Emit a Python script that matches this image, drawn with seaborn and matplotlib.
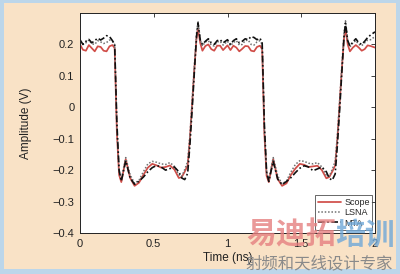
import numpy as np
import pandas as pd
import matplotlib
matplotlib.use("Agg")
import matplotlib.pyplot as plt
import seaborn as sns
from matplotlib.patches import Rectangle

# ---- data ----
time_ns = [0.00, 0.02, 0.04, 0.06, 0.08, 0.10, 0.12, 0.14, 0.16, 0.18, 0.20, 0.22,
           0.235, 0.25, 0.265, 0.28, 0.31, 0.34, 0.37, 0.40, 0.43, 0.46, 0.49, 0.52,
           0.55, 0.58, 0.61, 0.64, 0.67, 0.69, 0.71, 0.73, 0.745, 0.76, 0.775, 0.79,
           0.80, 0.815, 0.83, 0.85, 0.87, 0.89, 0.91, 0.93, 0.95, 0.97,
           1.00, 1.02, 1.04, 1.06, 1.08, 1.10, 1.12, 1.14, 1.16, 1.18, 1.20, 1.22,
           1.235, 1.25, 1.265, 1.28, 1.31, 1.34, 1.37, 1.40, 1.43, 1.46, 1.49, 1.52,
           1.55, 1.58, 1.61, 1.64, 1.67, 1.69, 1.71, 1.73, 1.745, 1.76, 1.775, 1.79,
           1.80, 1.815, 1.83, 1.85, 1.87, 1.89, 1.91, 1.93, 1.95, 1.97, 2.00]

scope = [0.200, 0.183, 0.180, 0.198, 0.188, 0.178, 0.194, 0.192, 0.180, 0.178, 0.194, 0.198,
         0.188, -0.080, -0.215, -0.238, -0.165, -0.225, -0.250, -0.240, -0.215, -0.192, -0.180, -0.185,
         -0.192, -0.190, -0.185, -0.198, -0.225, -0.222, -0.205, -0.185, -0.100, 0.010, 0.120, 0.220,
         0.250, 0.205, 0.180, 0.195, 0.200, 0.185, 0.180, 0.196, 0.196, 0.182,
         0.197, 0.182, 0.196, 0.190, 0.178, 0.186, 0.195, 0.194, 0.180, 0.178, 0.192, 0.196,
         0.185, -0.085, -0.218, -0.238, -0.165, -0.228, -0.250, -0.242, -0.215, -0.195, -0.180, -0.183,
         -0.190, -0.188, -0.186, -0.200, -0.226, -0.222, -0.205, -0.185, -0.100, 0.010, 0.120, 0.220,
         0.250, 0.200, 0.178, 0.190, 0.198, 0.190, 0.180, 0.185, 0.197, 0.195, 0.190]

lsna = [0.208, 0.200, 0.205, 0.214, 0.202, 0.200, 0.212, 0.208, 0.203, 0.206, 0.214, 0.210,
        0.200, -0.070, -0.205, -0.230, -0.160, -0.215, -0.242, -0.232, -0.205, -0.180, -0.172, -0.175,
        -0.180, -0.182, -0.176, -0.188, -0.215, -0.220, -0.198, -0.172, -0.090, 0.020, 0.130, 0.235,
        0.275, 0.215, 0.195, 0.208, 0.212, 0.198, 0.195, 0.208, 0.210, 0.198,
        0.210, 0.196, 0.206, 0.212, 0.198, 0.200, 0.212, 0.214, 0.200, 0.198, 0.208, 0.212,
        0.200, -0.075, -0.208, -0.232, -0.160, -0.218, -0.244, -0.234, -0.206, -0.182, -0.170, -0.172,
        -0.178, -0.180, -0.176, -0.190, -0.216, -0.220, -0.198, -0.172, -0.090, 0.020, 0.130, 0.235,
        0.275, 0.212, 0.192, 0.205, 0.212, 0.200, 0.196, 0.205, 0.214, 0.215, 0.225]

mta = [0.215, 0.200, 0.210, 0.216, 0.205, 0.212, 0.220, 0.214, 0.220, 0.228, 0.225, 0.212,
       0.200, -0.050, -0.200, -0.235, -0.170, -0.225, -0.245, -0.235, -0.222, -0.205, -0.192, -0.185,
       -0.190, -0.200, -0.195, -0.190, -0.205, -0.225, -0.230, -0.210, -0.120, -0.010, 0.110, 0.225,
       0.268, 0.215, 0.200, 0.210, 0.218, 0.205, 0.200, 0.212, 0.215, 0.205,
       0.215, 0.200, 0.212, 0.218, 0.205, 0.210, 0.218, 0.215, 0.225, 0.222, 0.215, 0.220,
       0.205, -0.055, -0.205, -0.236, -0.172, -0.228, -0.246, -0.236, -0.224, -0.208, -0.194, -0.186,
       -0.190, -0.202, -0.196, -0.190, -0.205, -0.226, -0.232, -0.212, -0.120, -0.010, 0.110, 0.225,
       0.268, 0.212, 0.195, 0.208, 0.218, 0.205, 0.200, 0.210, 0.222, 0.230, 0.240]

series_names = ["Scope", "LSNA", "MTA"]
x_ticks = [0, 0.5, 1, 1.5, 2]
x_tick_labels = ["0", "0.5", "1", "1.5", "2"]
y_ticks = [-0.4, -0.3, -0.2, -0.1, 0, 0.1, 0.2]
y_tick_labels = ["\u22120.4", "\u22120.3", "\u22120.2", "\u22120.1", "0", "0.1", "0.2"]

df = pd.DataFrame({"t": time_ns * 3,
                   "v": scope + lsna + mta,
                   "series": sum([[n] * len(time_ns) for n in series_names], [])})

sns.set_theme(style="white")
plt.rcParams["font.family"] = ["Liberation Sans", "DejaVu Sans"]

fig = plt.figure(figsize=(4.0, 2.74), dpi=100)
fig.patch.set_facecolor("#bcd6ea")
fig.patches.append(Rectangle((4 / 400, 5 / 274), 392 / 400, 266 / 274,
                             transform=fig.transFigure, facecolor="#f9e2c6",
                             edgecolor="none", zorder=-10))

ax = fig.add_axes([80 / 400, 1 - 233 / 274, 295 / 400, 220 / 274])
ax.set_zorder(1)
ax.set_facecolor("white")

styles = {"Scope": dict(color="#d04d48", lw=1.25, ls="-"),
          "LSNA": dict(color="#707070", lw=1.1, ls=(0, (1, 1.2))),
          "MTA": dict(color="#111111", lw=1.2, ls=(0, (4, 1.5, 1, 1.5)))}
for name in series_names:
    sub = df[df["series"] == name]
    sns.lineplot(data=sub, x="t", y="v", ax=ax, label=name, estimator=None,
                 sort=False, **styles[name])

ax.set_xlim(0, 2)
ax.set_ylim(-0.4, 0.3)
ax.set_xticks(x_ticks)
ax.set_xticklabels(x_tick_labels)
ax.set_yticks(y_ticks)
ax.set_yticklabels(y_tick_labels)
ax.tick_params(direction="in", length=3, width=0.6, top=True, right=True,
               labelsize=8, colors="#222222", pad=4)
for s in ax.spines.values():
    s.set_color("#222222")
    s.set_linewidth(0.7)
ax.set_xlabel("Time (ns)", fontsize=8.5, color="#222222")
ax.xaxis.set_label_coords(0.5, -0.085, transform=ax.transAxes)
ax.xaxis.label.set_va("top")
ax.set_ylabel("Amplitude (V)", fontsize=8.5, color="#222222")
ax.yaxis.set_label_coords(-0.163, 0.5, transform=ax.transAxes)

leg = ax.legend(loc="lower right", fontsize=6.5, frameon=True, fancybox=False,
                borderpad=0.3, labelspacing=0.15, handlelength=2.6,
                handletextpad=0.3, borderaxespad=0.3)
leg.get_frame().set_edgecolor("#222222")
leg.get_frame().set_linewidth(0.6)

# watermark text (drawn above the axes, semi-transparent, as in the reference)
wm_family = ["Noto Sans CJK SC", "DejaVu Sans"]
t1 = fig.text(0.615, 0.088, "易迪拓", fontsize=21.5, fontweight="bold", color="#e58080",
              alpha=0.8, family=wm_family, va="bottom", ha="left")
t2 = fig.text(0.838, 0.088, "培训", fontsize=21.5, fontweight="bold", color="#6fa8d8",
              alpha=0.8, family=wm_family, va="bottom", ha="left")
t3 = fig.text(0.615, 0.008, "射频和天线设计专家", fontsize=11.8, color="#8a8a8a",
              family=wm_family, va="bottom", ha="left")
for t in (t1, t2, t3):
    t.set_zorder(5)

fig.savefig("out.png", dpi=100, facecolor=fig.get_facecolor())
